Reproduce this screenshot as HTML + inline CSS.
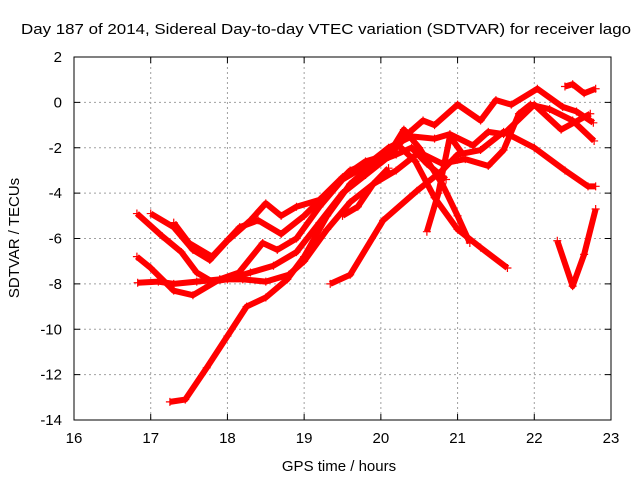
<!DOCTYPE html>
<html><head><meta charset="utf-8"><style>
html,body{margin:0;padding:0;background:#fff;}
svg{display:block;font-family:"Liberation Sans",sans-serif;}
</style></head><body>
<svg id="chart" width="640" height="480" viewBox="0 0 640 480">
<rect width="640" height="480" fill="#fff"/>
<text x="326" y="34" font-size="15" text-anchor="middle" textLength="610" lengthAdjust="spacingAndGlyphs">Day 187 of 2014, Sidereal Day-to-day VTEC variation (SDTVAR) for receiver lago</text>
<text x="339" y="471" font-size="15" text-anchor="middle">GPS time / hours</text>
<text x="19" y="238" font-size="15" text-anchor="middle" transform="rotate(-90 19 238)">SDTVAR / TECUs</text>
<g id="grid"></g><g id="series"></g><g id="axes"></g>
</svg>
<script>
const xTicks=[16,17,18,19,20,21,22,23];
const yTicks=[2,0,-2,-4,-6,-8,-10,-12,-14];
const s1=[[16.82,-4.9],[17.15,-5.9],[17.4,-6.6],[17.6,-7.5],[17.8,-7.9],[18.0,-7.8],[18.3,-7.5],[18.6,-7.2],[18.9,-6.6],[19.2,-5.3],[19.5,-4.0],[19.8,-3.2],[20.1,-2.4],[20.38,-1.3],[20.55,-0.8],[20.7,-1.0],[21.0,-0.1],[21.3,-0.8],[21.5,0.1],[21.7,-0.1],[22.04,0.6],[22.37,-0.2],[22.55,-0.4],[22.77,-0.9]];
const s2=[[17.0,-4.9],[17.3,-5.5],[17.55,-6.5],[17.77,-6.95],[18.0,-6.1],[18.3,-5.2],[18.5,-4.45],[18.7,-5.0],[18.9,-4.6],[19.2,-4.3],[19.5,-3.3],[19.8,-2.6],[20.1,-2.3],[20.3,-1.2],[20.5,-2.0],[20.8,-3.6],[21.0,-5.0],[21.16,-6.2]];
const s3=[[17.3,-5.3],[17.5,-6.2],[17.8,-6.8],[18.16,-5.5],[18.4,-5.2],[18.7,-5.8],[19.0,-5.0],[19.3,-4.0],[19.6,-3.0],[19.9,-2.6],[20.2,-1.8],[20.45,-2.6],[20.7,-4.2],[21.0,-5.6],[21.3,-6.4],[21.65,-7.3]];
const s4=[[16.82,-6.8],[17.0,-7.3],[17.3,-8.3],[17.55,-8.5],[17.9,-7.8],[18.15,-7.5],[18.46,-6.2],[18.65,-6.5],[18.9,-6.0],[19.2,-4.6],[19.5,-3.4],[19.8,-2.8],[20.1,-2.0],[20.4,-1.5],[20.7,-1.6],[20.9,-1.4],[21.2,-1.9],[21.4,-1.3],[21.6,-1.4],[22.0,-0.1],[22.35,-1.2],[22.73,-0.5]];
const s5=[[16.83,-7.95],[17.1,-7.9],[17.3,-8.0],[17.6,-7.9],[17.9,-7.8],[18.2,-7.8],[18.5,-7.9],[18.8,-7.6],[19.0,-7.0],[19.3,-5.6],[19.6,-4.4],[19.9,-3.6],[20.2,-3.0],[20.5,-2.2],[20.8,-2.7],[21.1,-2.5],[21.4,-2.8],[21.6,-2.1],[21.8,-0.5],[21.95,-0.1],[22.2,-0.3],[22.5,-0.8],[22.78,-1.7]];
const s6=[[17.25,-13.2],[17.45,-13.1],[17.73,-11.7],[18.0,-10.3],[18.25,-9.0],[18.5,-8.6],[18.78,-7.8],[19.0,-6.8],[19.3,-5.0],[19.6,-3.6],[19.9,-2.7],[20.2,-2.3],[20.4,-2.0],[20.6,-2.7],[20.85,-3.4]];
const s7=[[19.34,-8.0],[19.6,-7.6],[20.03,-5.2],[20.47,-3.9],[20.8,-3.0],[21.0,-2.3],[21.3,-2.1],[21.6,-1.3],[22.0,-2.0],[22.4,-3.0],[22.7,-3.7],[22.8,-3.7]];
const s8=[[20.6,-5.7],[20.75,-4.0],[20.9,-1.5],[21.05,-2.2]];
const s9=[[19.5,-5.0],[19.7,-4.6],[19.9,-3.6],[20.1,-2.9]];
const s10=[[22.3,-6.1],[22.5,-8.1],[22.65,-6.7],[22.8,-4.7]];
const s11=[[22.4,0.7],[22.5,0.8],[22.65,0.4],[22.8,0.6]];
const seriesList=[s1,s2,s3,s4,s5,s6,s7,s8,s9,s10,s11];
const L=74,R=611,T=57,B=420;
const X=v=>L+(v-16)/7*(R-L);
const Y=v=>T+(2-v)/16*(B-T);
const NS="http://www.w3.org/2000/svg";
const grid=document.getElementById('grid'),axes=document.getElementById('axes'),ser=document.getElementById('series');
function mk(tag,attrs,parent){const e=document.createElementNS(NS,tag);for(const k in attrs)e.setAttribute(k,attrs[k]);parent.appendChild(e);return e;}
xTicks.forEach(t=>{const x=X(t);
 if(t>16&&t<23){const g=mk('line',{x1:x,x2:x,y1:T,y2:B,stroke:'#a0a0a0','stroke-dasharray':'2,3'},grid);
 
 }
 const tk=mk('path',{d:`M${x},${B}v-6M${x},${T}v6`,stroke:'#000'},axes);
 
 
 const lb=mk('text',{x:x,y:B+23,'font-size':15,'text-anchor':'middle'},axes);lb.textContent=t;
 
 });
yTicks.forEach(t=>{const y=Y(t);
 if(t<2&&t>-14){const g=mk('line',{x1:L,x2:R,y1:y,y2:y,stroke:'#a0a0a0','stroke-dasharray':'2,3'},grid);
 
 }
 const tk=mk('path',{d:`M${L},${y}h6M${R},${y}h-6`,stroke:'#000'},axes);
 
 
 const lb=mk('text',{x:L-12,y:y+5,'font-size':15,'text-anchor':'end'},axes);lb.textContent=t;
 
 });
const fr=mk('rect',{x:L,y:T,width:R-L,height:B-T,fill:'none',stroke:'#000'},axes);


seriesList.forEach((s,i)=>{
 const pl=mk('polyline',{points:s.map(p=>X(p[0])+','+Y(p[1])).join(' '),fill:'none',stroke:'#ff0000','stroke-width':6,'stroke-linejoin':'round','stroke-linecap':'butt'},ser);
 
 
 s.forEach(p=>{const m=mk('path',{d:`M${X(p[0])-4},${Y(p[1])}h8M${X(p[0])},${Y(p[1])-4}v8`,stroke:'#ff0000','stroke-width':1.2},ser);
 
 });
});
</script>
</body></html>
